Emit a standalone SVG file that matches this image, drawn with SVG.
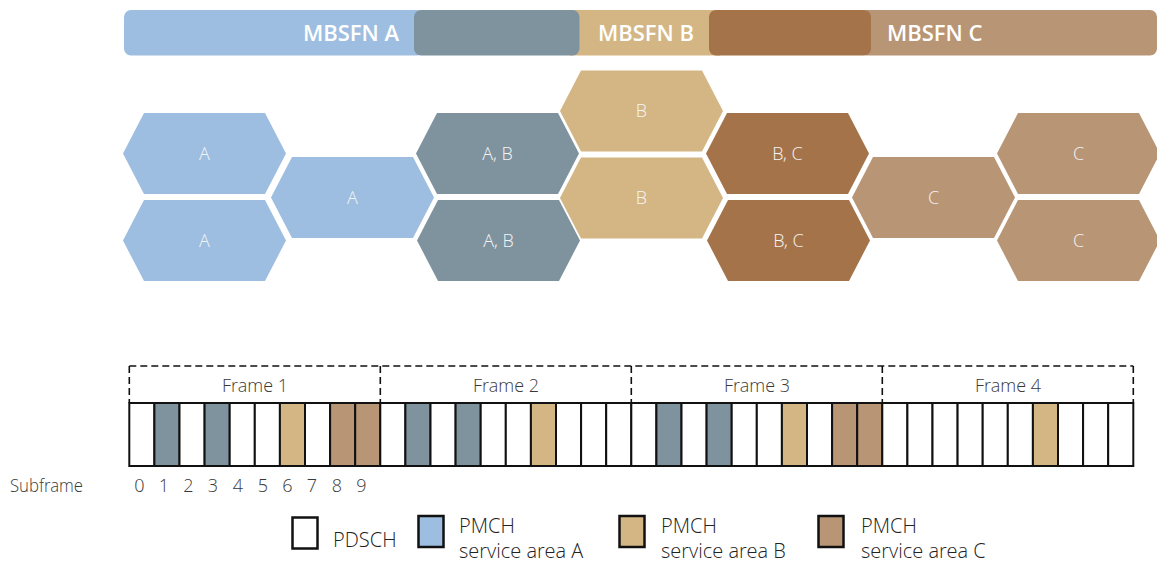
<svg xmlns="http://www.w3.org/2000/svg" xmlns:xlink="http://www.w3.org/1999/xlink" width="1157" height="564" viewBox="0 0 1157 564">
<style>
.ca{fill:#9dbee0}.cab{fill:#7f939f}.cb{fill:#d4b684}.cbc{fill:#a57349}.cc{fill:#b89574}.cw{fill:#ffffff}
.bar{font-family:"Open Sans","Liberation Sans",sans-serif;font-weight:600;font-size:22px;fill:#ffffff}
.hl{font-family:"Open Sans Light","Open Sans","Liberation Sans",sans-serif;font-weight:300;font-size:18px;fill:#f4f4f4;text-anchor:middle}
.lt{font-family:"Open Sans Light","Open Sans","Liberation Sans",sans-serif;font-weight:300;font-size:18px;fill:#3a3a3a}
.lg{font-family:"Open Sans Light","Open Sans","Liberation Sans",sans-serif;font-weight:300;font-size:20px;fill:#222222}
.cell{stroke:#111111;stroke-width:2}
.dash{stroke:#111111;stroke-width:1.6;stroke-dasharray:7,4;fill:none}
.lbox{stroke:#111111;stroke-width:2.5}
</style>
<defs>
<polygon id="hex" points="0,40.5 21,0 142,0 163,40.5 142,81 21,81"/>
</defs>

<g id="mbsfn-bar">
<rect class="ca" x="124" y="10" width="300" height="45.5" rx="7"/>
<rect class="cb" x="570" y="10" width="150" height="45.5"/>
<rect class="cc" x="860" y="10" width="297" height="45.5" rx="7"/>
<rect class="cab" x="414" y="10" width="165.5" height="45.5" rx="7"/>
<rect class="cbc" x="709" y="10" width="162" height="45.5" rx="7"/>
<text class="bar" x="399" y="41" text-anchor="end">MBSFN A</text>
<text class="bar" x="598" y="41">MBSFN B</text>
<text class="bar" x="887" y="41">MBSFN C</text>
</g>

<g id="cells">
<g id="hex-a1"><use xlink:href="#hex" href="#hex" x="123" y="113" class="ca"/><text class="hl" x="204.5" y="160">A</text></g>
<g id="hex-a2"><use xlink:href="#hex" href="#hex" x="123" y="200" class="ca"/><text class="hl" x="204.5" y="247">A</text></g>
<g id="hex-a3"><use xlink:href="#hex" href="#hex" x="271" y="157" class="ca"/><text class="hl" x="352.5" y="204">A</text></g>
<g id="hex-ab1"><use xlink:href="#hex" href="#hex" x="416" y="113" class="cab"/><text class="hl" x="497.5" y="160">A, B</text></g>
<g id="hex-ab2"><use xlink:href="#hex" href="#hex" x="417" y="200" class="cab"/><text class="hl" x="498.5" y="247">A, B</text></g>
<g id="hex-b1"><use xlink:href="#hex" href="#hex" x="560" y="70.5" class="cb"/><text class="hl" x="641.5" y="117">B</text></g>
<g id="hex-b2"><use xlink:href="#hex" href="#hex" x="560" y="157.5" class="cb"/><text class="hl" x="641.5" y="204">B</text></g>
<g id="hex-bc1"><use xlink:href="#hex" href="#hex" x="706" y="113" class="cbc"/><text class="hl" x="787.5" y="160">B, C</text></g>
<g id="hex-bc2"><use xlink:href="#hex" href="#hex" x="707" y="200" class="cbc"/><text class="hl" x="788.5" y="247">B, C</text></g>
<g id="hex-c1"><use xlink:href="#hex" href="#hex" x="852" y="157" class="cc"/><text class="hl" x="933.5" y="204">C</text></g>
<g id="hex-c2"><use xlink:href="#hex" href="#hex" x="997" y="113" class="cc"/><text class="hl" x="1078.5" y="160">C</text></g>
<g id="hex-c3"><use xlink:href="#hex" href="#hex" x="997" y="200" class="cc"/><text class="hl" x="1078.5" y="247">C</text></g>
</g>

<g id="frames">
<path class="dash" d="M129.3,366 H1133.3 M129.3,366 V403 M380.3,366 V403 M631.3,366 V403 M882.3,366 V403 M1133.3,366 V403"/>
<text class="lt" x="255" y="392" text-anchor="middle">Frame 1</text>
<text class="lt" x="506" y="392" text-anchor="middle">Frame 2</text>
<text class="lt" x="757" y="392" text-anchor="middle">Frame 3</text>
<text class="lt" x="1008" y="392" text-anchor="middle">Frame 4</text>
</g>

<g id="subframes">
<rect class="cell cw" x="129.3" y="403" width="25.1" height="63"/>
<rect class="cell cab" x="154.4" y="403" width="25.1" height="63"/>
<rect class="cell cw" x="179.5" y="403" width="25.1" height="63"/>
<rect class="cell cab" x="204.6" y="403" width="25.1" height="63"/>
<rect class="cell cw" x="229.7" y="403" width="25.1" height="63"/>
<rect class="cell cw" x="254.8" y="403" width="25.1" height="63"/>
<rect class="cell cb" x="279.9" y="403" width="25.1" height="63"/>
<rect class="cell cw" x="305.0" y="403" width="25.1" height="63"/>
<rect class="cell cc" x="330.1" y="403" width="25.1" height="63"/>
<rect class="cell cc" x="355.2" y="403" width="25.1" height="63"/>

<rect class="cell cw" x="380.3" y="403" width="25.1" height="63"/>
<rect class="cell cab" x="405.4" y="403" width="25.1" height="63"/>
<rect class="cell cw" x="430.5" y="403" width="25.1" height="63"/>
<rect class="cell cab" x="455.6" y="403" width="25.1" height="63"/>
<rect class="cell cw" x="480.7" y="403" width="25.1" height="63"/>
<rect class="cell cw" x="505.8" y="403" width="25.1" height="63"/>
<rect class="cell cb" x="530.9" y="403" width="25.1" height="63"/>
<rect class="cell cw" x="556.0" y="403" width="25.1" height="63"/>
<rect class="cell cw" x="581.1" y="403" width="25.1" height="63"/>
<rect class="cell cw" x="606.2" y="403" width="25.1" height="63"/>

<rect class="cell cw" x="631.3" y="403" width="25.1" height="63"/>
<rect class="cell cab" x="656.4" y="403" width="25.1" height="63"/>
<rect class="cell cw" x="681.5" y="403" width="25.1" height="63"/>
<rect class="cell cab" x="706.6" y="403" width="25.1" height="63"/>
<rect class="cell cw" x="731.7" y="403" width="25.1" height="63"/>
<rect class="cell cw" x="756.8" y="403" width="25.1" height="63"/>
<rect class="cell cb" x="781.9" y="403" width="25.1" height="63"/>
<rect class="cell cw" x="807.0" y="403" width="25.1" height="63"/>
<rect class="cell cc" x="832.1" y="403" width="25.1" height="63"/>
<rect class="cell cc" x="857.2" y="403" width="25.1" height="63"/>

<rect class="cell cw" x="882.3" y="403" width="25.1" height="63"/>
<rect class="cell cw" x="907.4" y="403" width="25.1" height="63"/>
<rect class="cell cw" x="932.5" y="403" width="25.1" height="63"/>
<rect class="cell cw" x="957.6" y="403" width="25.1" height="63"/>
<rect class="cell cw" x="982.7" y="403" width="25.1" height="63"/>
<rect class="cell cw" x="1007.8" y="403" width="25.1" height="63"/>
<rect class="cell cb" x="1032.9" y="403" width="25.1" height="63"/>
<rect class="cell cw" x="1058.0" y="403" width="25.1" height="63"/>
<rect class="cell cw" x="1083.1" y="403" width="25.1" height="63"/>
<rect class="cell cw" x="1108.2" y="403" width="25.1" height="63"/>

<text class="lt" x="10" y="491.5" textLength="73" lengthAdjust="spacingAndGlyphs">Subframe</text>
<text class="lt" x="139.5" y="491.5" text-anchor="middle">0</text>
<text class="lt" x="164" y="491.5" text-anchor="middle">1</text>
<text class="lt" x="188.5" y="491.5" text-anchor="middle">2</text>
<text class="lt" x="213" y="491.5" text-anchor="middle">3</text>
<text class="lt" x="238" y="491.5" text-anchor="middle">4</text>
<text class="lt" x="263" y="491.5" text-anchor="middle">5</text>
<text class="lt" x="287.5" y="491.5" text-anchor="middle">6</text>
<text class="lt" x="312" y="491.5" text-anchor="middle">7</text>
<text class="lt" x="337" y="491.5" text-anchor="middle">8</text>
<text class="lt" x="361.5" y="491.5" text-anchor="middle">9</text>
</g>

<g id="legend">
<rect class="lbox cw" x="292.5" y="517.5" width="25" height="31"/>
<text class="lg" x="333" y="546.5">PDSCH</text>
<rect class="lbox ca" x="418.5" y="516" width="25" height="31"/>
<text class="lg" x="459" y="532.5">PMCH</text>
<text class="lg" x="459" y="557.5">service area A</text>
<rect class="lbox cb" x="619.5" y="516" width="25" height="31"/>
<text class="lg" x="661" y="532.5">PMCH</text>
<text class="lg" x="661" y="557.5">service area B</text>
<rect class="lbox cc" x="818.5" y="516" width="25" height="31"/>
<text class="lg" x="861" y="532.5">PMCH</text>
<text class="lg" x="861" y="557.5">service area C</text>
</g>
</svg>
